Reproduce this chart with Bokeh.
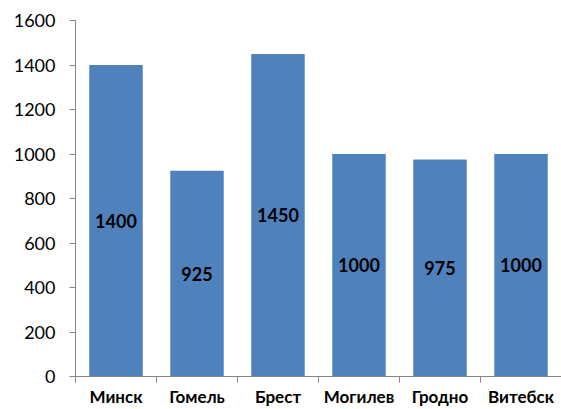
from bokeh.plotting import figure
from bokeh.models import FixedTicker, Range1d, ColumnDataSource
from bokeh.core.properties import value
from bokeh.embed import file_html
from bokeh.resources import INLINE

cities = ["Минск", "Гомель", "Брест", "Могилев", "Гродно", "Витебск"]
values = [1400, 925, 1450, 1000, 975, 1000]
y_ticks = [0, 200, 400, 600, 800, 1000, 1200, 1400, 1600]

xs = [i + 0.5 for i in range(len(cities))]
src = ColumnDataSource(dict(
    x=xs, top=values, mid=[v / 2 for v in values], lab=[str(v) for v in values]))

p = figure(width=561, height=409, output_backend="svg", toolbar_location=None,
           x_range=Range1d(0, len(cities)), y_range=Range1d(0, 1600),
           min_border_left=75, min_border_right=0, min_border_top=20, min_border_bottom=32)
p.outline_line_color = None
p.xgrid.visible = False
p.ygrid.visible = False

p.vbar(x="x", top="top", width=0.66, bottom=0, source=src,
       fill_color="#4F81BD", line_color=None)
p.text(x="x", y="mid", text="lab", source=src, text_align="center",
       text_baseline="middle", text_font=value("Lato"), text_font_style="bold",
       text_font_size="18px", text_color="#000000")

font = "Lato"
ax = p.xaxis[0]
ax.ticker = FixedTicker(ticks=xs, minor_ticks=list(range(len(cities) + 1)))
ax.major_label_overrides = {x: c for x, c in zip(xs, cities)}
ax.major_tick_out = 0
ax.major_tick_in = 0
ax.minor_tick_out = 6
ax.minor_tick_in = 0
ax.minor_tick_line_color = "#868686"
ax.axis_line_color = "#868686"
ax.major_label_text_font = font
ax.major_label_text_font_style = "bold"
ax.major_label_text_font_size = "17px"
ax.major_label_text_color = "#000000"
ax.major_label_standoff = 3

ay = p.yaxis[0]
ay.ticker = FixedTicker(ticks=y_ticks, minor_ticks=[])
ay.major_tick_out = 6
ay.major_tick_in = 0
ay.major_tick_line_color = "#868686"
ay.axis_line_color = "#868686"
ay.major_label_text_font = font
ay.major_label_text_font_size = "18px"
ay.major_label_text_color = "#000000"
ay.major_label_standoff = 14

open("out.html", "w").write(file_html(p, INLINE))
